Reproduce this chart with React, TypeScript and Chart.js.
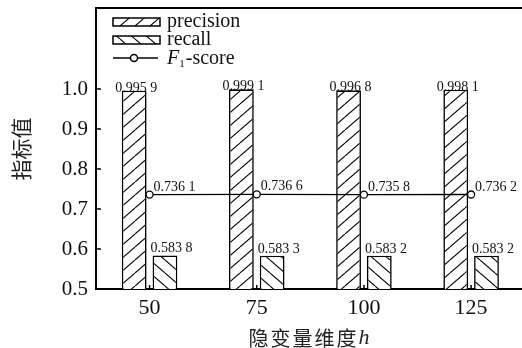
import React, { useEffect, useRef } from 'react';
import { Chart, registerables } from 'chart.js';

Chart.register(...registerables);

const categories = ['50', '75', '100', '125'];
const precision = [0.9959, 0.9991, 0.9968, 0.9981];
const recall = [0.5838, 0.5833, 0.5832, 0.5832];
const f1 = [0.7361, 0.7366, 0.7358, 0.7362];
const yTicks = [0.5, 0.6, 0.7, 0.8, 0.9, 1.0];
const seriesNames = ['precision', 'recall', '-score'];
const yTitle = '指标值';
const xTitle = '隐变量维度';
const xTitleVar = 'h';

const SERIF = '"Liberation Serif", "Times New Roman", serif';
const CJK = '"Noto Sans CJK SC", sans-serif';

function fmt(v: number) {
  const s = v.toFixed(4);
  return s.slice(0, 5) + ' ' + s.slice(5);
}

function makeHatch(dir: number) {
  const W = 15, H = 13;
  const c = document.createElement('canvas');
  c.width = W; c.height = H;
  const ctx = c.getContext('2d')!;
  ctx.fillStyle = '#fff';
  ctx.fillRect(0, 0, W, H);
  ctx.strokeStyle = '#000';
  ctx.lineWidth = 1.1;
  for (const off of [-W, 0, W]) {
    ctx.beginPath();
    if (dir === 1) { ctx.moveTo(off, H); ctx.lineTo(off + W, 0); }
    else { ctx.moveTo(off, 0); ctx.lineTo(off + W, H); }
    ctx.stroke();
  }
  return ctx.createPattern(c, 'repeat')!;
}

export default function App() {
  const ref = useRef<HTMLCanvasElement>(null);
  useEffect(() => {
    const canvas = ref.current!;
    const hatchA = makeHatch(1);
    const hatchB = makeHatch(-1);

    const decor = {
      id: 'decor',
      afterDatasetsDraw(chart: any) {
        const ctx = chart.ctx as CanvasRenderingContext2D;
        const { left, top, bottom } = chart.chartArea;
        const x = chart.scales.x, y = chart.scales.y;
        ctx.save();
        ctx.strokeStyle = '#000';
        ctx.lineWidth = 2;
        ctx.beginPath();
        ctx.moveTo(left - 1, top - 1);
        ctx.lineTo(chart.width, top - 1);
        ctx.stroke();
        ctx.lineWidth = 1.5;
        yTicks.forEach((v) => {
          const py = y.getPixelForValue(v);
          ctx.beginPath(); ctx.moveTo(left, py); ctx.lineTo(left + 5, py); ctx.stroke();
        });
        categories.forEach((_, i) => {
          const px = x.getPixelForValue(i);
          ctx.beginPath(); ctx.moveTo(px, bottom); ctx.lineTo(px, bottom - 4); ctx.stroke();
        });

        // value labels
        ctx.fillStyle = '#111';
        ctx.font = '14px ' + SERIF;
        ctx.textBaseline = 'alphabetic';
        const m0 = chart.getDatasetMeta(0), m1 = chart.getDatasetMeta(1), m2 = chart.getDatasetMeta(2);
        m0.data.forEach((el: any, i: number) => {
          ctx.textAlign = 'center';
          ctx.fillText(fmt(precision[i]), el.x + 2, el.y + 1);
        });
        m1.data.forEach((el: any, i: number) => {
          ctx.textAlign = 'left';
          ctx.fillText(fmt(recall[i]), el.x - el.width / 2 - 2, el.y - 3);
        });
        m2.data.forEach((el: any, i: number) => {
          ctx.textAlign = 'left';
          ctx.fillText(fmt(f1[i]), el.x + 4, el.y - 4);
        });

        // legend
        const lx = left + 17, ly = top + 9;
        const sw = 47;
        ctx.lineWidth = 1.5;
        ctx.fillStyle = hatchA; ctx.fillRect(lx, ly, sw, 8); ctx.strokeRect(lx, ly, sw, 8);
        ctx.fillStyle = hatchB; ctx.fillRect(lx, ly + 18, sw, 8); ctx.strokeRect(lx, ly + 18, sw, 8);
        ctx.beginPath(); ctx.moveTo(lx, ly + 40); ctx.lineTo(lx + sw - 2, ly + 40); ctx.stroke();
        ctx.beginPath(); ctx.arc(lx + 21, ly + 40, 3.5, 0, Math.PI * 2);
        ctx.fillStyle = '#fff'; ctx.fill(); ctx.stroke();
        ctx.fillStyle = '#111';
        ctx.textAlign = 'left';
        ctx.textBaseline = 'middle';
        const tx = lx + 54;
        ctx.font = '20px ' + SERIF;
        ctx.fillText(seriesNames[0], tx, ly + 4);
        ctx.fillText(seriesNames[1], tx, ly + 22);
        ctx.font = 'italic 20px ' + SERIF;
        ctx.fillText('F', tx, ly + 41);
        const fw = ctx.measureText('F').width;
        ctx.font = '11px ' + SERIF;
        ctx.fillText('1', tx + fw, ly + 46);
        const ow = ctx.measureText('1').width;
        ctx.font = '20px ' + SERIF;
        ctx.fillText(seriesNames[2], tx + fw + ow + 1, ly + 41);

        // axis titles
        ctx.fillStyle = '#222';
        ctx.save();
        ctx.translate(21, (top + bottom) / 2);
        ctx.rotate(-Math.PI / 2);
        ctx.textAlign = 'center';
        ctx.font = '21px ' + CJK;
        ctx.fillText(yTitle, 0, 0);
        ctx.restore();

        ctx.font = '20px ' + CJK;
        (ctx as any).letterSpacing = '2px';
        const w1 = ctx.measureText(xTitle).width;
        (ctx as any).letterSpacing = '0px';
        ctx.font = 'italic 22px ' + SERIF;
        const w2 = ctx.measureText(xTitleVar).width;
        const cx = 309 - (w1 + w2) / 2;
        ctx.textAlign = 'left';
        ctx.font = '20px ' + CJK;
        (ctx as any).letterSpacing = '2px';
        ctx.fillText(xTitle, cx, 338);
        (ctx as any).letterSpacing = '0px';
        ctx.font = 'italic 22px ' + SERIF;
        ctx.fillText(xTitleVar, cx + w1, 338);
        ctx.restore();
      },
    };

    const chart = new Chart(canvas, {
      type: 'bar',
      data: {
        labels: categories,
        datasets: [
          {
            type: 'bar', label: 'precision', data: precision,
            backgroundColor: hatchA, borderColor: '#000', borderWidth: 1.6,
            categoryPercentage: 0.574, barPercentage: 0.806, order: 1,
          },
          {
            type: 'bar', label: 'recall', data: recall,
            backgroundColor: hatchB, borderColor: '#000', borderWidth: 1.6,
            categoryPercentage: 0.574, barPercentage: 0.806, order: 1,
          },
          {
            type: 'line', label: 'F1-score', data: f1,
            borderColor: '#000', borderWidth: 1.3, pointRadius: 3.5,
            pointBackgroundColor: '#fff', pointBorderColor: '#000', pointBorderWidth: 1.3,
            order: 0,
          } as any,
        ],
      },
      options: {
        responsive: false,
        animation: false,
        devicePixelRatio: 1,
        layout: { padding: { top: 9, right: 2, left: 0, bottom: 0 } },
        plugins: { legend: { display: false }, tooltip: { enabled: false } },
        scales: {
          x: {
            type: 'category',
            offset: true,
            grid: { drawOnChartArea: false, drawTicks: false },
            border: { color: '#000', width: 2 },
            ticks: { font: { family: SERIF, size: 22 }, color: '#111', padding: 6 },
            afterFit: (s: any) => { s.height = 59; s.paddingLeft = 0; s.paddingRight = 0; },
          },
          y: {
            min: 0.5, max: 1.2,
            afterBuildTicks: (s: any) => { s.ticks = yTicks.map((v) => ({ value: v })); },
            grid: { drawOnChartArea: false, drawTicks: false },
            border: { color: '#000', width: 2 },
            ticks: {
              font: { family: SERIF, size: 21 }, color: '#111', padding: 8,
              callback: (v: any) => Number(v).toFixed(1),
            },
            afterFit: (s: any) => { s.width = 96; s.paddingTop = 0; s.paddingBottom = 0; },
          },
        },
      } as any,
      plugins: [decor],
    });
    return () => chart.destroy();
  }, []);

  return (
    <div style={{ position: 'fixed', left: 0, top: 0, width: 522, height: 348, overflow: 'hidden', background: '#fff' }}>
      <canvas ref={ref} width={530} height={348} style={{ display: 'block', width: 530, height: 348 }} />
    </div>
  );
}
